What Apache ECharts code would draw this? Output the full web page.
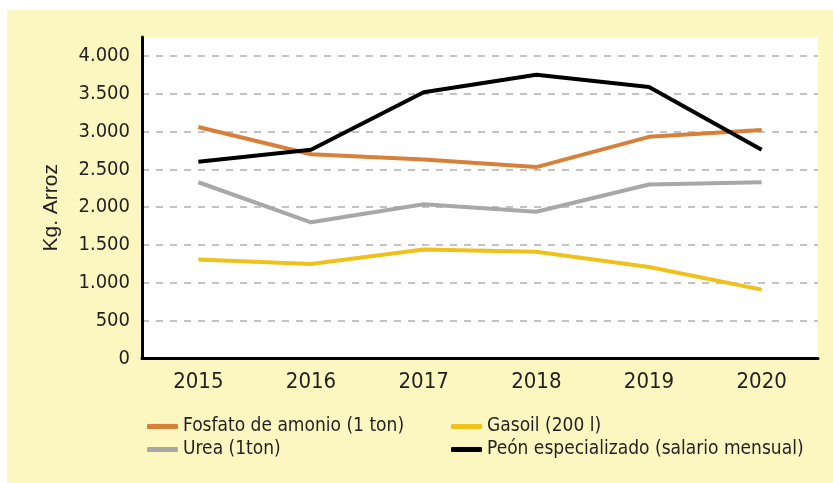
<!DOCTYPE html>
<html>
<head>
<meta charset="utf-8">
<script src="https://cdn.jsdelivr.net/npm/echarts@6/dist/echarts.min.js"></script>
<style>
  html, body { margin: 0; padding: 0; background: #fff; }
  #chart { position: absolute; left: 7px; top: 10px; width: 826px; height: 473px; background: #fcf6c0; }
</style>
</head>
<body>
<div id="chart"></div>
<script>
// datos (Kg. de arroz)
var years = ['2015', '2016', '2017', '2018', '2019', '2020'];
var fosfato = [3060, 2700, 2630, 2530, 2930, 3020];
var urea = [2330, 1800, 2040, 1940, 2300, 2330];
var gasoil = [1310, 1250, 1440, 1410, 1210, 910];
var peon = [2600, 2760, 3520, 3750, 3590, 2760];

var names = {
  fosfato: 'Fosfato de amonio (1 ton)',
  urea: 'Urea (1ton)',
  gasoil: 'Gasoil (200 l)',
  peon: 'Peón especializado (salario mensual)'
};

var txt = '#231f20';
var font = '"DejaVu Sans Condensed", "Liberation Sans Narrow", sans-serif';

function serie(name, data, color) {
  return {
    name: name,
    type: 'line',
    data: data,
    symbol: 'none',
    color: color,
    lineStyle: { width: 4, color: color }
  };
}

var legendText = { color: txt, fontFamily: font, fontSize: 19, lineHeight: 23 };

var option = {
  animation: false,
  grid: { left: 135, right: 15, top: 27, bottom: 124.5, containLabel: false, show: true, backgroundColor: '#fff', borderWidth: 0 },
  legend: [
    {
      orient: 'vertical',
      left: 135,
      top: 400,
      itemGap: 0,
      itemWidth: 31,
      itemHeight: 5,
      icon: 'roundRect',
      textStyle: legendText,
      data: [names.fosfato, names.urea]
    },
    {
      orient: 'vertical',
      left: 439,
      top: 400,
      itemGap: 0,
      itemWidth: 31,
      itemHeight: 5,
      icon: 'roundRect',
      textStyle: legendText,
      data: [names.gasoil, names.peon]
    }
  ],
  xAxis: {
    type: 'category',
    data: years,
    boundaryGap: true,
    axisLine: { lineStyle: { color: '#000', width: 3 } },
    axisTick: { show: false },
    axisLabel: { color: txt, fontFamily: '"Liberation Sans Narrow", "DejaVu Sans Condensed", sans-serif', fontSize: 22, margin: 13 }
  },
  yAxis: {
    type: 'value',
    min: 0,
    max: 4250,
    interval: 500,
    name: 'Kg. Arroz',
    nameLocation: 'middle',
    nameGap: 80,
    nameTextStyle: { color: txt, fontFamily: '"Liberation Sans", sans-serif', fontSize: 21, padding: [0, 20, 0, 0] },
    axisLine: { show: true, lineStyle: { color: '#000', width: 3 } },
    axisTick: { show: false },
    axisLabel: {
      color: txt,
      fontFamily: font,
      fontSize: 20,
      margin: 12,
      formatter: function (v) {
        if (v > 4000) return '';
        return v >= 1000 ? Math.floor(v / 1000) + '.' + String(v % 1000).padStart(3, '0') : String(v);
      }
    },
    splitLine: { showMaxLine: false, lineStyle: { type: [7, 7], color: '#b0b0b0', width: 1.5 } }
  },
  series: [
    serie(names.fosfato, fosfato, '#d6803a'),
    serie(names.urea, urea, '#a8a8a8'),
    serie(names.gasoil, gasoil, '#eec11b'),
    serie(names.peon, peon, '#000000')
  ]
};

var chart = echarts.init(document.getElementById('chart'));
chart.setOption(option);
</script>
</body>
</html>
